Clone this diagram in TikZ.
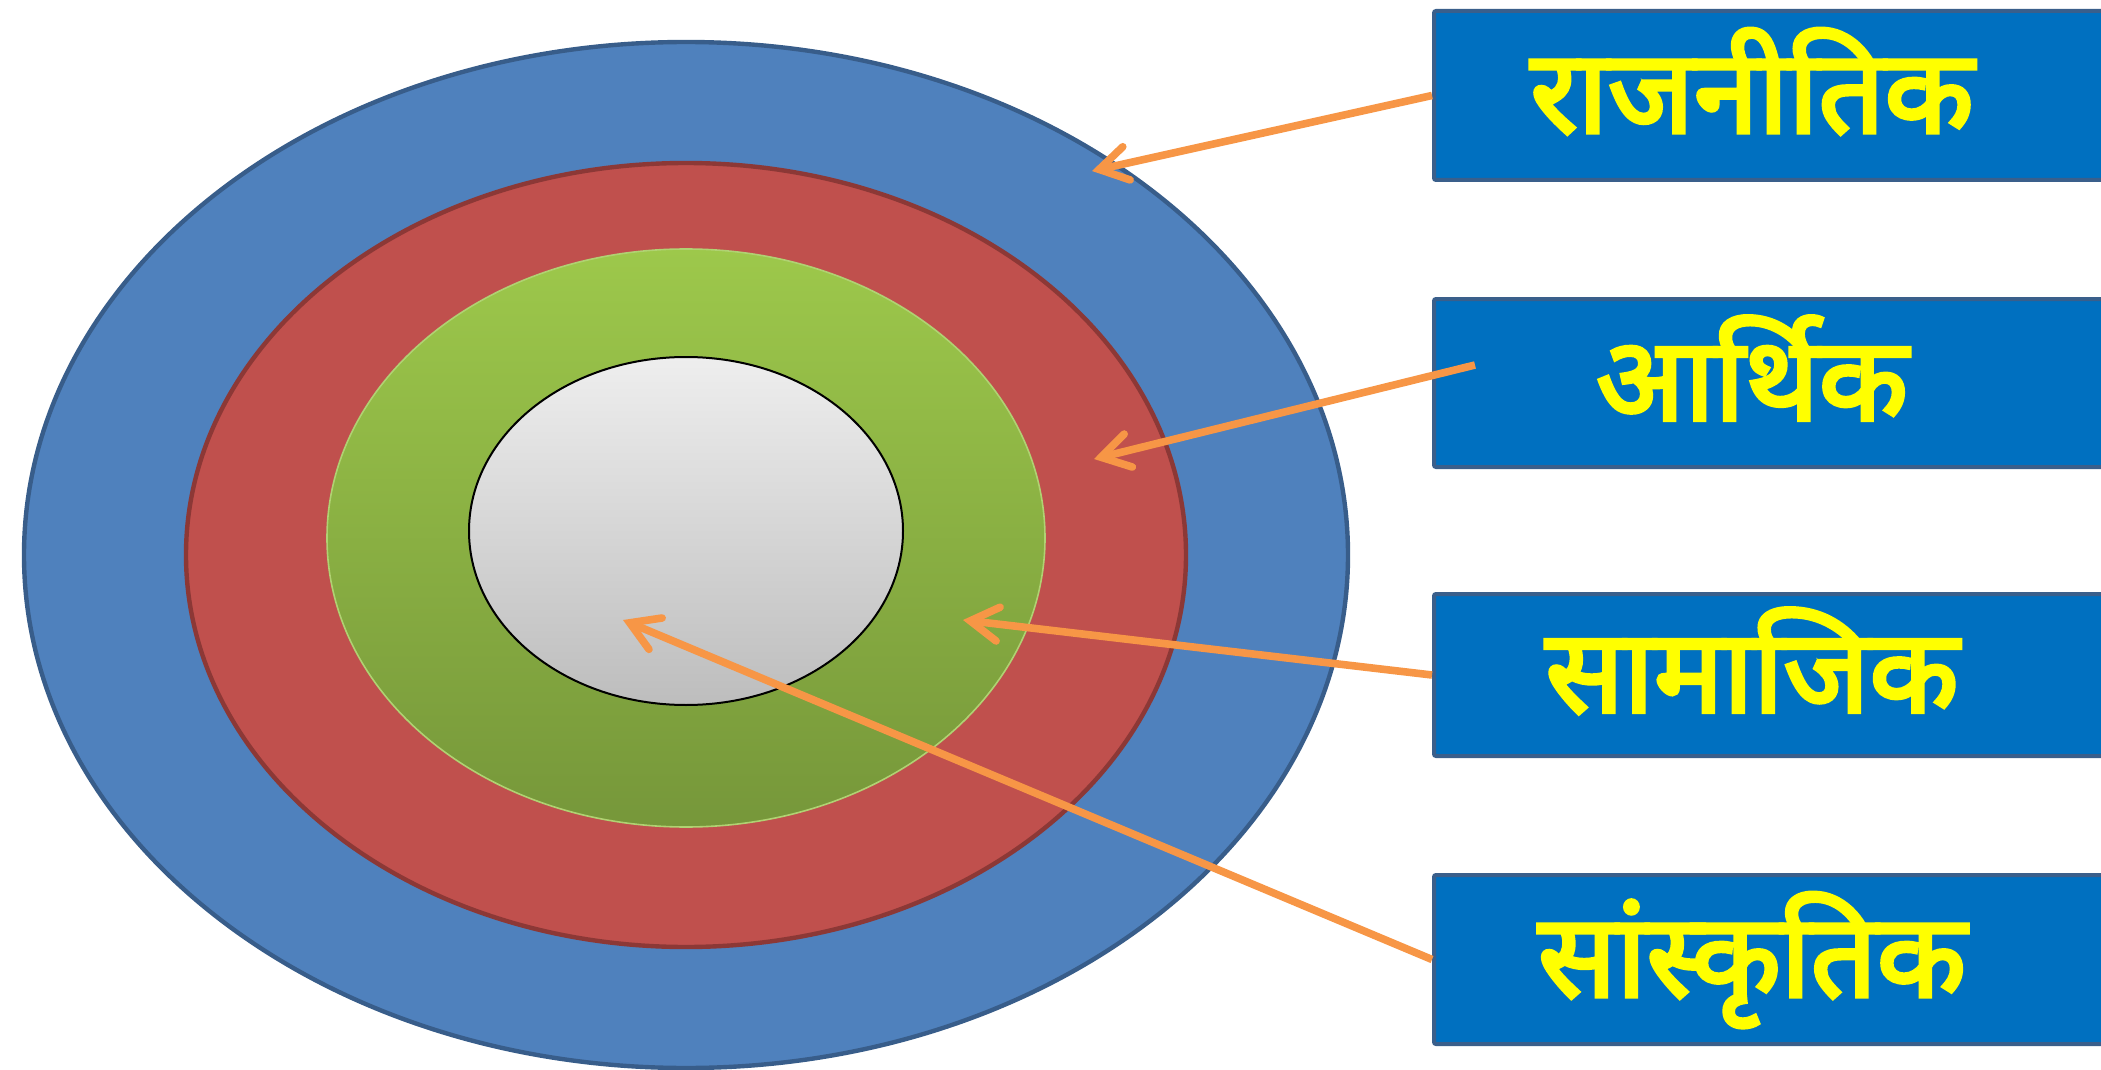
\documentclass[tikz,border=0pt]{standalone}
\usepackage{fontspec}
\newfontfamily\devfont[Script=Devanagari, FakeBold=3.5]{Noto Sans}
\usetikzlibrary{arrows.meta}

\definecolor{outerblue}{HTML}{4F81BD}
\definecolor{outerblueline}{HTML}{385D8A}
\definecolor{ringred}{HTML}{C0504D}
\definecolor{ringredline}{HTML}{8C3836}
\definecolor{greentop}{HTML}{9DC84B}
\definecolor{greenbot}{HTML}{76973A}
\definecolor{greenline}{HTML}{B0D272}
\definecolor{greytop}{HTML}{EEEEEE}
\definecolor{greybot}{HTML}{BDBDBD}
\definecolor{boxblue}{HTML}{0070C0}
\definecolor{boxline}{HTML}{3A5F8B}
\definecolor{pointer}{HTML}{F79646}
\definecolor{labelyellow}{HTML}{FFFF00}

\begin{document}
\begin{tikzpicture}[x=0.5pt,y=-0.5pt,
  areabox/.style={draw=boxline, line width=2pt, fill=boxblue, rounded corners=1pt,
    minimum width=360pt, anchor=west, inner sep=0pt},
  areatext/.style={text=labelyellow, font=\devfont\fontsize{58}{64}\selectfont,
    anchor=base, inner sep=0pt},
  pointerline/.style={draw=pointer, line width=3.8pt,
    -{Straight Barb[length=14pt,width=17pt,line cap=round,line join=miter]}}]

\useasboundingbox (0,0) rectangle (2101,1070);

% concentric spheres
\draw[fill=outerblue, draw=outerblueline, line width=2.2pt]
  (686,555) ellipse [x radius=331pt, y radius=256.5pt];
\draw[fill=ringred, draw=ringredline, line width=2.2pt]
  (686,555) ellipse [x radius=250pt, y radius=196pt];
\draw[top color=greentop, bottom color=greenbot, draw=greenline, line width=0.8pt]
  (686,538) ellipse [x radius=179.5pt, y radius=144.5pt];
\draw[top color=greytop, bottom color=greybot, draw=black, line width=1pt]
  (686,531) ellipse [x radius=108.5pt, y radius=87pt];

% target points inside the spheres
\coordinate (p1) at (1092,171);
\coordinate (p2) at (1094,459);
\coordinate (p3) at (963,620);
\coordinate (p4) at (623,620);

% label boxes
\node[areabox, minimum height=84.5pt] (b1) at (1432,95.5) {};
\node[areabox, minimum height=84pt]   (b2) at (1432,383) {};
\node[areabox, minimum height=81pt]   (b3) at (1432,675) {};
\node[areabox, minimum height=84.5pt] (b4) at (1432,959.5) {};

\node[areatext] (t1) at (1752,132.5) {राजनीतिक};
\node[areatext] (t2) at (1752,420) {आर्थिक};
\node[areatext] (t3) at (1752,712) {सामाजिक};
\node[areatext] (t4) at (1752,996.5) {सांस्कृतिक};

% pointers
\coordinate (s2) at (1475,365);
\draw[pointerline] (b1.west) -- (p1);
\draw[pointerline] (s2) -- (p2);
\draw[pointerline] (b3.west) -- (p3);
\draw[pointerline] (b4.west) -- (p4);
\end{tikzpicture}
\end{document}
